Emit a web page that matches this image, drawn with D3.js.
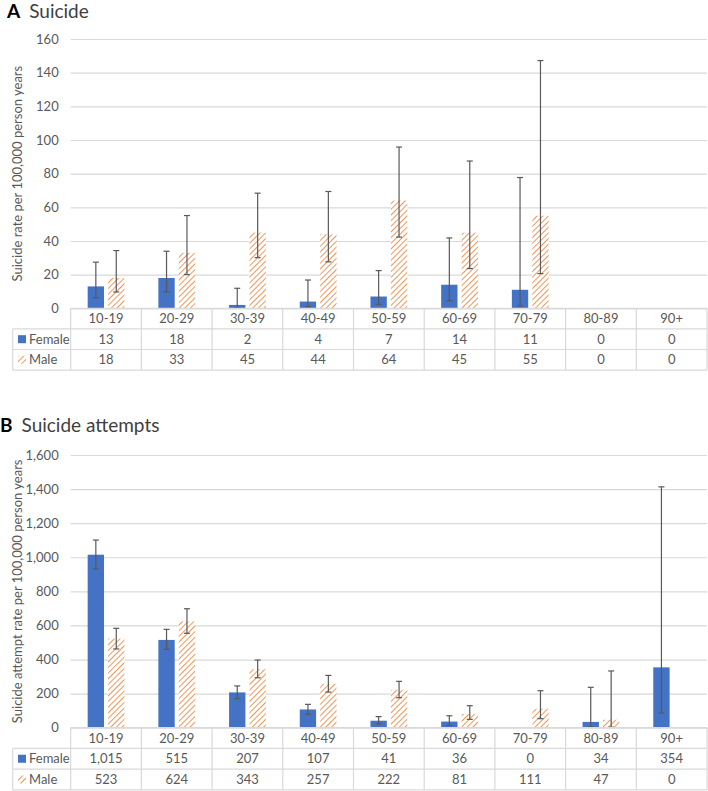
<!DOCTYPE html>
<html>
<head>
<meta charset="utf-8">
<script src="https://cdn.jsdelivr.net/npm/d3@7"></script>
<style>
  body { margin: 0; background: #fff; }
  svg { display: block; font-family: Lato, "Open Sans", sans-serif; }
</style>
</head>
<body>
<svg id="chart" width="708" height="791"></svg>
<script>
// ---------------- data ----------------
const categories = ["10-19","20-29","30-39","40-49","50-59","60-69","70-79","80-89","90+"];
const sexes = ["Female","Male"];

// Panel A: suicide rate per 100,000 person years
const suicideFemale = [13, 18, 2, 4, 7, 14, 11, 0, 0];
const suicideMale   = [18, 33, 45, 44, 64, 45, 55, 0, 0];
const suicideFemaleLo = [6.3, 9.7, 0.3, 1, 2.4, 4.5, 1.4, null, null];
const suicideFemaleHi = [27.4, 33.9, 11.9, 16.8, 22.4, 41.8, 77.7, null, null];
const suicideMaleLo   = [9.7, 20, 30.1, 27.6, 42.3, 23.6, 20.6, null, null];
const suicideMaleHi   = [34.3, 55.1, 68.4, 69.4, 95.8, 87.5, 147.2, null, null];
const suicideTicks = [0, 20, 40, 60, 80, 100, 120, 140, 160];

// Panel B: suicide attempt rate per 100,000 person years
const attemptFemale = [1015, 515, 207, 107, 41, 36, 0, 34, 354];
const attemptMale   = [523, 624, 343, 257, 222, 81, 111, 47, 0];
const attemptFemaleLo = [931, 460, 170, 79, 22, 14, null, 4, 86];
const attemptFemaleHi = [1101, 577, 245, 137, 65, 70, null, 237, 1413];
const attemptMaleLo   = [462, 554, 293, 209, 176, 49, 53, 3, null];
const attemptMaleHi   = [583, 698, 397, 307, 272, 129, 217, 333, null];
const attemptTicks = [0, 200, 400, 600, 800, 1000, 1200, 1400, 1600];

// ---------------- styling ----------------
const FEMALE = "#4472C4", MALE = "#ED7D31", GRID = "#d9d9d9", TEXT = "#595959", ERR = "#595959";

const svg = d3.select("#chart");
const defs = svg.append("defs");
const pat = defs.append("pattern")
  .attr("id", "hatch").attr("patternUnits", "userSpaceOnUse")
  .attr("width", 4).attr("height", 4)
  .attr("patternTransform", "rotate(45)");
pat.append("rect").attr("width", 4).attr("height", 4).attr("fill", "#fff");
pat.append("line").attr("x1", 0).attr("y1", 0).attr("x2", 0).attr("y2", 4)
  .attr("stroke", MALE).attr("stroke-width", 1.6);

const xLeft = 70.7, xRight = 707, tableLeft = 12.7;
const x = d3.scaleBand().domain(categories).range([xLeft, xRight]).padding(0);
const colW = x.bandwidth();
const xs = d3.scaleBand().domain(sexes).range([colW * 0.24, colW * 0.76]).paddingInner(0.2);

function panel(cfg) {
  const g = svg.append("g");
  const y = d3.scaleLinear().domain(cfg.domain).range([cfg.y0, cfg.y1]);

  // title
  const t = g.append("text").attr("x", cfg.titleX).attr("y", cfg.titleY).attr("font-size", 19);
  t.append("tspan").attr("font-weight", 700).attr("fill", "#000").text(cfg.letter);
  t.append("tspan").attr("dx", 9).attr("fill", "#404040").text(cfg.title);

  // gridlines + y tick labels
  const axis = d3.axisLeft(y).tickValues(cfg.ticks).tickSize(-(xRight - xLeft)).tickPadding(12)
    .tickFormat(d3.format(","));
  const ag = g.append("g").attr("transform", `translate(${xLeft},0)`).call(axis);
  ag.select(".domain").remove();
  ag.selectAll(".tick line").attr("stroke", GRID).attr("stroke-width", 1.2);
  ag.selectAll(".tick text").attr("fill", TEXT).attr("font-size", 13).attr("font-family", "Lato, sans-serif");

  // y axis title
  g.append("text")
    .attr("transform", `translate(${cfg.labelX},${(cfg.y0 + cfg.y1) / 2}) rotate(-90)`)
    .attr("text-anchor", "middle").attr("fill", TEXT).attr("font-size", 13)
    .text(cfg.yLabel);

  // bars
  const series = [
    {sex: "Female", vals: cfg.female, lo: cfg.fLo, hi: cfg.fHi, fill: FEMALE},
    {sex: "Male", vals: cfg.male, lo: cfg.mLo, hi: cfg.mHi, fill: "url(#hatch)"}
  ];
  series.forEach(s => {
    const sg = g.append("g");
    sg.selectAll("rect").data(categories).join("rect")
      .attr("x", c => x(c) + xs(s.sex))
      .attr("width", xs.bandwidth())
      .attr("y", (c, i) => y(s.vals[i]))
      .attr("height", (c, i) => y(0) - y(s.vals[i]))
      .attr("fill", s.fill);
    const eb = sg.selectAll("g.err").data(categories.map((c, i) => ({c, lo: s.lo[i], hi: s.hi[i]}))
      .filter(d => d.lo != null)).join("g").attr("class", "err")
      .attr("stroke", ERR).attr("stroke-width", 1.2);
    const cx = d => x(d.c) + xs(s.sex) + xs.bandwidth() / 2;
    eb.append("line").attr("x1", cx).attr("x2", cx).attr("y1", d => y(d.lo)).attr("y2", d => y(d.hi));
    eb.append("line").attr("x1", d => cx(d) - 3).attr("x2", d => cx(d) + 3).attr("y1", d => y(d.hi)).attr("y2", d => y(d.hi));
    eb.append("line").attr("x1", d => cx(d) - 3).attr("x2", d => cx(d) + 3).attr("y1", d => y(d.lo)).attr("y2", d => y(d.lo));
  });

  // data table
  const rowH = cfg.rowH;
  const r0 = cfg.y0, r1 = r0 + rowH, r2 = r1 + rowH, r3 = r2 + rowH;
  const tg = g.append("g").attr("stroke", GRID).attr("stroke-width", 1.2);
  tg.append("line").attr("x1", xLeft).attr("x2", xRight).attr("y1", r0).attr("y2", r0);
  [r1, r2, r3].forEach(r => tg.append("line").attr("x1", tableLeft).attr("x2", xRight).attr("y1", r).attr("y2", r));
  tg.append("line").attr("x1", tableLeft).attr("x2", tableLeft).attr("y1", r1).attr("y2", r3);
  categories.forEach(c => tg.append("line").attr("x1", x(c)).attr("x2", x(c)).attr("y1", r0).attr("y2", r3));
  tg.append("line").attr("x1", xRight).attr("x2", xRight).attr("y1", r0).attr("y2", r3);

  const txt = g.append("g").attr("fill", TEXT).attr("font-size", 13).attr("text-anchor", "middle");
  const fmt = d3.format(",");
  txt.selectAll("text.cat").data(categories).join("text").attr("class", "cat")
    .attr("x", c => x(c) + colW / 2).attr("y", r0 + rowH / 2 + 4.5).text(c => c);
  txt.selectAll("text.fv").data(cfg.female).join("text").attr("class", "fv")
    .attr("x", (d, i) => x(categories[i]) + colW / 2).attr("y", r1 + rowH / 2 + 4.5).text(d => fmt(d));
  txt.selectAll("text.mv").data(cfg.male).join("text").attr("class", "mv")
    .attr("x", (d, i) => x(categories[i]) + colW / 2).attr("y", r2 + rowH / 2 + 4.5).text(d => fmt(d));

  // legend keys in table
  g.append("rect").attr("x", 18).attr("y", r1 + rowH / 2 - 4).attr("width", 8).attr("height", 8).attr("fill", FEMALE);
  g.append("rect").attr("x", 18).attr("y", r2 + rowH / 2 - 4).attr("width", 8).attr("height", 8).attr("fill", "url(#hatch)");
  g.append("text").attr("x", 29).attr("y", r1 + rowH / 2 + 4.5).attr("fill", TEXT).attr("font-size", 13).text("Female");
  g.append("text").attr("x", 29).attr("y", r2 + rowH / 2 + 4.5).attr("fill", TEXT).attr("font-size", 13).text("Male");
}

panel({
  letter: "A", title: "Suicide", titleX: 7, titleY: 18,
  domain: [0, 160], y0: 308.3, y1: 39, ticks: suicideTicks,
  yLabel: "Suicide rate per 100,000 person years", labelX: 22,
  female: suicideFemale, male: suicideMale,
  fLo: suicideFemaleLo, fHi: suicideFemaleHi, mLo: suicideMaleLo, mHi: suicideMaleHi,
  rowH: 20.6
});

panel({
  letter: "B", title: "Suicide attempts", titleX: 0, titleY: 432,
  domain: [0, 1600], y0: 727.7, y1: 455, ticks: attemptTicks,
  yLabel: "Suicide attempt rate per 100,000 person years", labelX: 22,
  female: attemptFemale, male: attemptMale,
  fLo: attemptFemaleLo, fHi: attemptFemaleHi, mLo: attemptMaleLo, mHi: attemptMaleHi,
  rowH: 20.7
});
</script>
</body>
</html>
